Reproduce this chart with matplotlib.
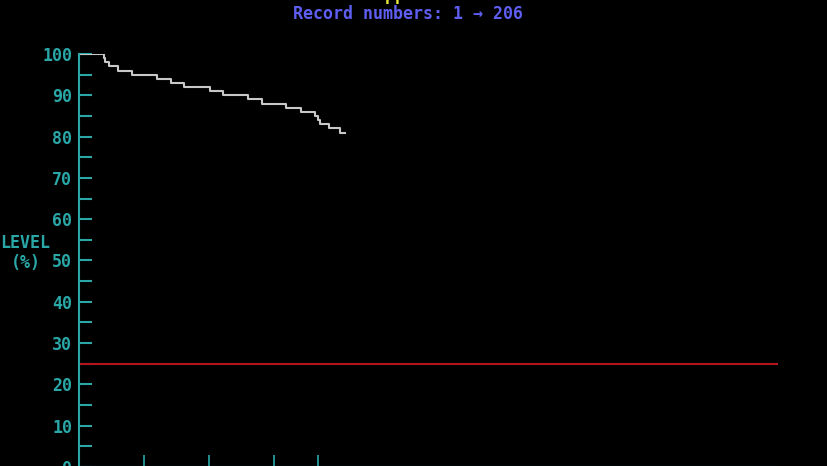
import numpy as np
from matplotlib import pyplot as plt


# Level readings (record number where the level changes, level in %)
records = [1, 20, 21, 24, 31, 42, 61, 72, 82, 102, 112, 131, 142, 161, 172,
           183, 185, 187, 194, 202, 206]
levels = [100, 99, 98, 97, 96, 95, 94, 93, 92, 91, 90, 89, 88, 87, 86,
          85, 84, 83, 82, 81, 81]

# Alarm threshold (%)
threshold = 25

# Marker ticks along the record axis
record_marks = [51, 101, 151, 185]

first_record = 1
last_record = 206

CYAN = '#2aa7a7'
GREY = '#c8c8c8'
RED = '#b3141e'
BLUE = '#5e5ef2'
YELLOW = '#e8e83c'
MONO = 'DejaVu Sans Mono'


def plot_levels(to_file_name='out.png'):
    """
    Draw the level history in the style of an old DOS screen.

    Parameters:
        to_file_name: name of the png to save

    Returns:
        None
    """
    fig = plt.figure(figsize=(8.28, 4.66), dpi=100, facecolor='black')
    # axes bottom sits just below the canvas, like the cropped screenshot
    ax = fig.add_axes([0.0954, -0.002, 0.8442, 0.886], facecolor='black')

    ax.step(records, levels, where='post', color=GREY, lw=1.5)
    ax.axhline(threshold, color=RED, lw=1.5)

    ax.set_xlim(1, 540)
    ax.set_ylim(0, 100)

    for side in ['top', 'right']:
        ax.spines[side].set_visible(False)
    ax.spines['left'].set_color(CYAN)
    ax.spines['left'].set_linewidth(1.5)
    ax.spines['bottom'].set_color(CYAN)
    ax.spines['bottom'].set_linewidth(1.5)

    ax.set_yticks(np.arange(0, 101, 10))
    ax.set_yticks(np.arange(5, 100, 10), minor=True)
    ax.tick_params(axis='y', which='both', direction='in', length=9,
                   width=1.5, color=CYAN, labelcolor=CYAN, pad=5,
                   labelsize=12)
    for tick in ax.get_yticklabels():
        tick.set_family(MONO)
        tick.set_fontweight('bold')

    ax.set_xticks(record_marks)
    ax.set_xticks([], minor=True)
    ax.tick_params(axis='x', which='major', direction='in', length=9,
                   width=1.2, color=CYAN, labelbottom=False)

    # y label in two lines, left of the tick labels
    fig.text(25 / 828, 1 - 242.5 / 466, 'LEVEL', color=CYAN, family=MONO,
             fontsize=12, fontweight='bold', ha='center', va='center')
    fig.text(26 / 828, 1 - 262.5 / 466, '(%)', color=CYAN, family=MONO,
             fontsize=12, fontweight='bold', ha='center', va='center')

    # titles, the first one is mostly cut off at the top edge
    fig.text(405 / 828, 1 - 0.5 / 466, 'Supplies', color=YELLOW, family=MONO,
             fontsize=12, fontweight='bold', ha='center', va='baseline')
    fig.text(408 / 828, 1 - 14 / 466,
             'Record numbers: %d \u2192 %d' % (first_record, last_record),
             color=BLUE, family=MONO, fontsize=12, fontweight='bold',
             ha='center', va='center')

    fig.savefig(to_file_name, dpi=100, facecolor='black')


plot_levels()
